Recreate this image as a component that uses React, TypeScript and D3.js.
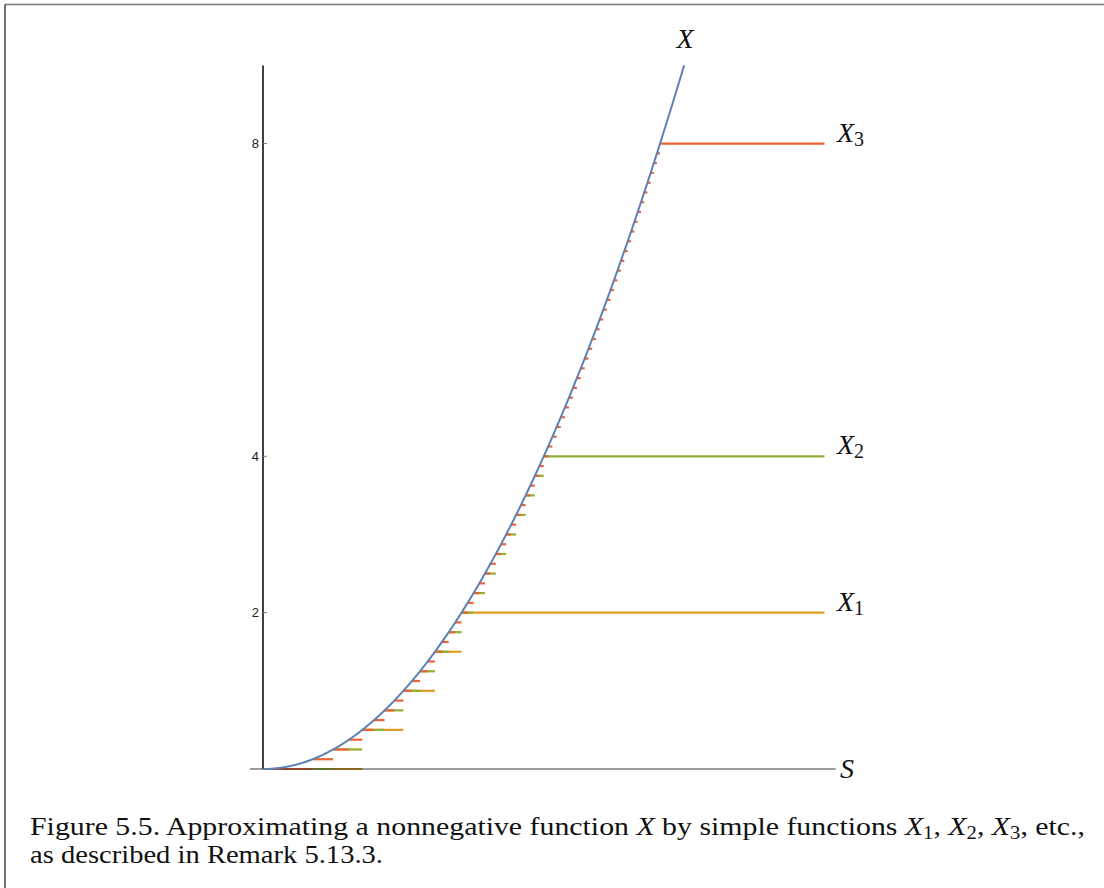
import React from "react";
import * as d3 from "d3";

// ---- data ----
const curveEnd = 3; // S value where the curve X stops (X = 9)
const xDomainMax = 4; // right end of the simple-function caps
const xAxisEnd = 4.08;
const yDomainMax = 9;
const yTicks = [2, 4, 8];
const approxOrders = [1, 2, 3]; // n for X_n
const approxCaps = [2, 4, 8]; // 2^n caps
const approxColors = ["#E19C24", "#8FB032", "#EB6235"];
const approxLabels = ["1", "2", "3"];
const curveColor = "#5E81B5";

const W = 1104;
const H = 888;

// X(s) = s^2, the nonnegative function illustrated
const Xfun = (s: number) => s * s;
const Xinv = (v: number) => Math.sqrt(v);

export default function App() {
  const x = d3.scaleLinear().domain([0, xDomainMax]).range([263, 824.5]);
  const y = d3.scaleLinear().domain([0, yDomainMax]).range([769, 65.4]);

  const samples = d3.range(0, curveEnd + 1e-9, 0.005);
  const line = d3
    .line<number>()
    .x((s) => x(s))
    .y((s) => y(Xfun(s)));

  const segs = approxOrders.map((n, i) => {
    const step = 1 / Math.pow(2, n);
    const cap = approxCaps[i];
    const count = Math.round(cap / step);
    const out: { lv: number; s0: number; s1: number }[] = [];
    for (let k = 0; k < count; k++) {
      const lv = k * step;
      out.push({ lv, s0: Xinv(lv), s1: Xinv(lv + step) });
    }
    out.push({ lv: cap, s0: Xinv(cap), s1: xDomainMax });
    return out;
  });

  const serif = "Liberation Serif, serif";
  const sans = "Liberation Sans, Arial, sans-serif";

  return (
    <div style={{ position: "absolute", left: 0, top: 0 }}>
      <svg width={W} height={H} style={{ display: "block", background: "#fff" }}>
        {/* frame */}
        <line x1={5} y1={4.5} x2={W} y2={4.5} stroke="#777" strokeWidth={1.5} />
        <line x1={5} y1={4.5} x2={5} y2={H} stroke="#222" strokeWidth={1.3} />

        {/* step functions */}
        {segs.map((ss, i) => (
          <g key={i} stroke={approxColors[i]} strokeWidth={2.2}>
            {ss.map((d, j) => (
              <line key={j} x1={x(d.s0)} x2={x(d.s1)} y1={y(d.lv)} y2={y(d.lv)} />
            ))}
          </g>
        ))}

        {/* x axis */}
        <line x1={250} x2={x(xAxisEnd)} y1={y(0)} y2={y(0)} stroke="#222" strokeOpacity={0.6} strokeWidth={1.5} />
        {/* y axis */}
        <line x1={x(0)} x2={x(0)} y1={y(0)} y2={y(yDomainMax)} stroke="#000" strokeWidth={1.5} />
        {yTicks.map((t) => (
          <g key={t}>
            <line x1={x(0)} x2={x(0) + 4} y1={y(t)} y2={y(t)} stroke="#777" strokeWidth={1} />
            <text x={x(0) - 4} y={y(t)} dy="0.36em" textAnchor="end" fontFamily={sans} fontSize={13} fill="#222">
              {t}
            </text>
          </g>
        ))}

        {/* curve */}
        <path d={line(samples) || ""} fill="none" stroke={curveColor} strokeWidth={2} />

        {/* labels */}
        <text x={685} y={48} textAnchor="middle" fontFamily={serif} fontStyle="italic" fontSize={28} fill="#111">
          X
        </text>
        <text x={840} y={778} fontFamily={serif} fontStyle="italic" fontSize={28} fill="#111">
          S
        </text>
        {approxCaps.map((c, i) => (
          <text key={i} x={837} y={y(c) - 2} fontFamily={serif} fontSize={28} fill="#111">
            <tspan fontStyle="italic">X</tspan>
            <tspan fontSize={20} dy={4}>
              {approxLabels[i]}
            </tspan>
          </text>
        ))}

        {/* caption */}
        <text x={30} y={835} fontFamily={serif} fontSize={26} fill="#111" textLength={1055} lengthAdjust="spacingAndGlyphs">
          <tspan>Figure 5.5.  Approximating a nonnegative function </tspan>
          <tspan fontStyle="italic">X</tspan>
          <tspan> by simple functions </tspan>
          <tspan fontStyle="italic">X</tspan>
          <tspan fontSize={18} dy={4}>1</tspan>
          <tspan dy={-4}>, </tspan>
          <tspan fontStyle="italic">X</tspan>
          <tspan fontSize={18} dy={4}>2</tspan>
          <tspan dy={-4}>, </tspan>
          <tspan fontStyle="italic">X</tspan>
          <tspan fontSize={18} dy={4}>3</tspan>
          <tspan dy={-4}>, etc.,</tspan>
        </text>
        <text x={30} y={863} fontFamily={serif} fontSize={26} fill="#111" textLength={353} lengthAdjust="spacingAndGlyphs">
          as described in Remark 5.13.3.
        </text>
      </svg>
    </div>
  );
}
